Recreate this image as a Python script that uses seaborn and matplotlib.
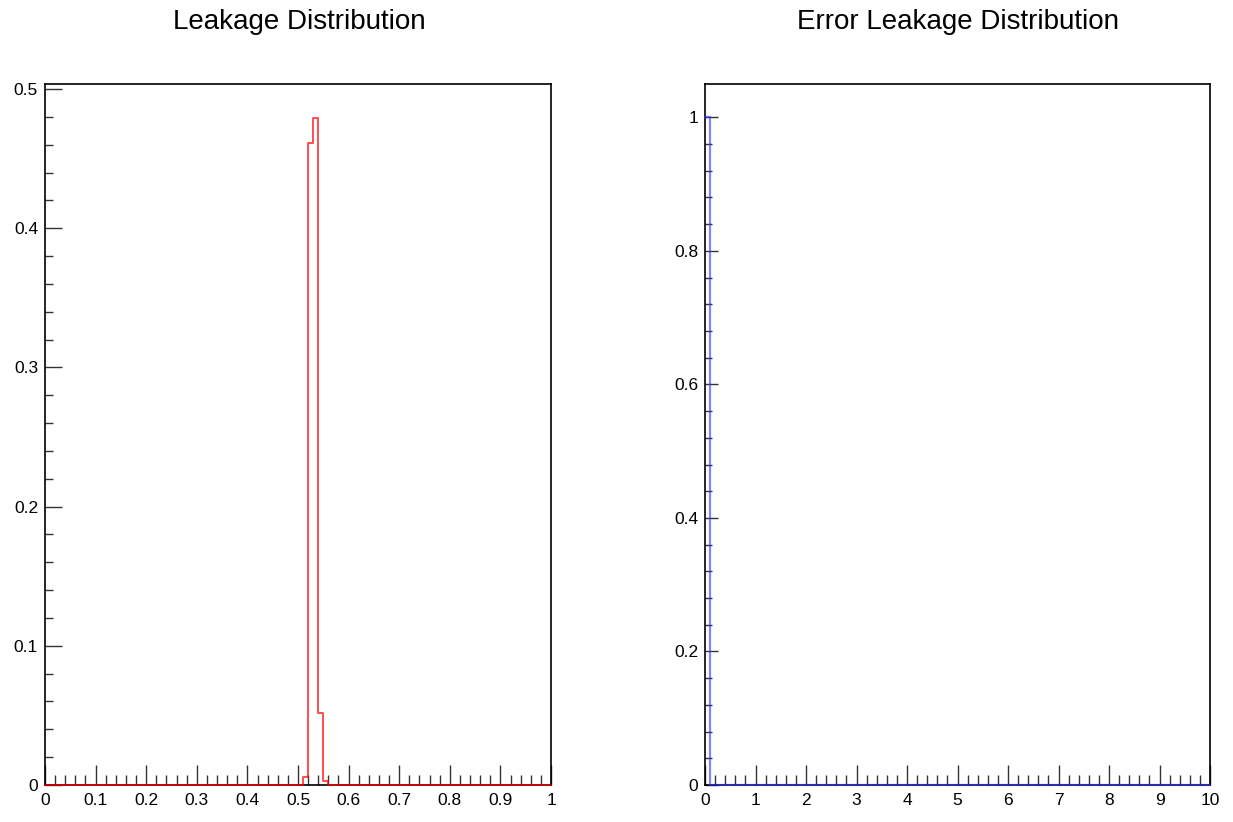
import numpy as np
import pandas as pd
import matplotlib
matplotlib.use("Agg")
import matplotlib.pyplot as plt
import seaborn as sns
from matplotlib.ticker import MultipleLocator, FixedLocator, FuncFormatter

# ---- data ----
leak_centers = [0.515, 0.525, 0.535, 0.545, 0.555]
leak_fraction = [0.006, 0.461, 0.479, 0.052, 0.003]
leak_range = (0.0, 1.0)
leak_nbins = 100

err_centers = [0.05]
err_fraction = [1.0]
err_range = (0.0, 10.0)
err_nbins = 100

titles = ["Leakage Distribution", "Error Leakage Distribution"]

sns.set_style("white")
plt.rcParams["font.family"] = ["Liberation Sans", "DejaVu Sans"]
plt.rcParams["text.color"] = "black"
plt.rcParams["xtick.labelcolor"] = "black"
plt.rcParams["ytick.labelcolor"] = "black"

W, H = 1233, 822
fig = plt.figure(figsize=(W / 100, H / 100), dpi=100)

ax1 = fig.add_axes([45 / W, 1 - 785 / H, (551 - 45) / W, (785 - 84) / H])
ax2 = fig.add_axes([705 / W, 1 - 785 / H, (1210 - 705) / W, (785 - 84) / H])

df1 = pd.DataFrame({"x": leak_centers, "w": leak_fraction})
df2 = pd.DataFrame({"x": err_centers, "w": err_fraction})

sns.histplot(data=df1, x="x", weights="w", bins=leak_nbins, binrange=leak_range,
             element="step", fill=False, color="#ff0000", linewidth=1.3,
             alpha=0.75, ax=ax1, zorder=5, clip_on=False)
sns.histplot(data=df2, x="x", weights="w", bins=err_nbins, binrange=err_range,
             element="step", fill=False, color="#3030ff", linewidth=1.6,
             alpha=0.6, ax=ax2, zorder=5, clip_on=False)

fmt = FuncFormatter(lambda v, p: "%g" % round(v, 6))

configs = [
    (ax1, leak_range, (0, 0.5036), 0.1, 0.02, 0.1, 0.02, 0.5, (14.4, 7.2), (12, 6)),
    (ax2, err_range, (0, 1.05), 1.0, 0.2, 0.2, 0.04, 1.0, (14.4, 7.2), (9.5, 5)),
]
for ax, xr, yr, xmaj, xmin, ymaj, ymin, ytop, xlen, ylen in configs:
    ax.set_xlim(*xr)
    ax.set_ylim(*yr)
    ax.set_xlabel("")
    ax.set_ylabel("")
    ax.xaxis.set_major_locator(MultipleLocator(xmaj))
    ax.xaxis.set_minor_locator(MultipleLocator(xmin))
    ax.yaxis.set_major_locator(MultipleLocator(ymaj))
    nmin = int(round(ytop / ymin))
    ax.yaxis.set_minor_locator(FixedLocator([i * ymin for i in range(nmin + 1)]))
    ax.xaxis.set_major_formatter(fmt)
    ax.yaxis.set_major_formatter(fmt)
    ax.tick_params(axis="x", which="major", direction="in", length=xlen[0], width=1,
                   color="#333333", labelsize=12.5, pad=6, bottom=True, top=False,
                   labelcolor="black")
    ax.tick_params(axis="x", which="minor", direction="in", length=xlen[1], width=1,
                   color="#333333", bottom=True, top=False)
    ax.tick_params(axis="y", which="major", direction="in", length=ylen[0], width=1,
                   color="#333333", labelsize=12.5, pad=5, left=True, right=False,
                   labelcolor="black")
    ax.tick_params(axis="y", which="minor", direction="in", length=ylen[1], width=1,
                   color="#333333", left=True, right=False)
    for s in ax.spines.values():
        s.set_visible(True)
        s.set_color("black")
        s.set_linewidth(1.2)
        s.set_zorder(2)
    ax.set_facecolor("white")
    ax.grid(False)

fig.text(299 / W, 1 - 22 / H, titles[0], ha="center", va="center", fontsize=20,
         color="black")
fig.text(958 / W, 1 - 22 / H, titles[1], ha="center", va="center", fontsize=20,
         color="black")

fig.savefig("out.png", dpi=100, facecolor="white")
